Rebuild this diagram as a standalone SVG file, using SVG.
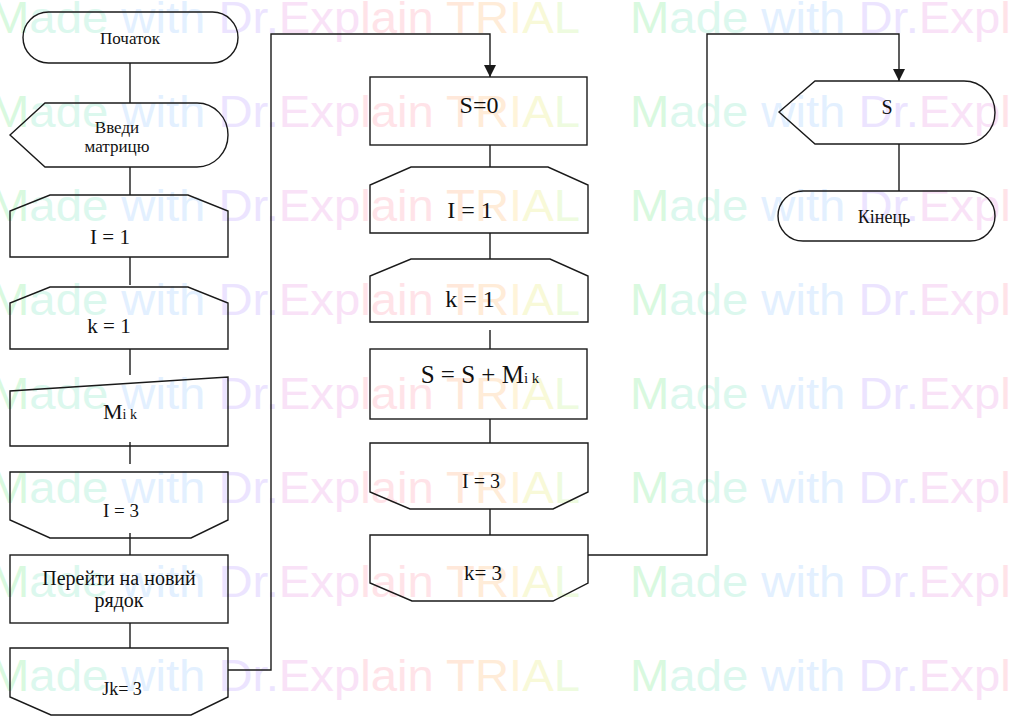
<svg xmlns="http://www.w3.org/2000/svg" width="1010" height="718" viewBox="0 0 1010 718">
<style>
.wm{font-family:"Liberation Sans",Arial,sans-serif;font-size:45px}
.s{fill:none;stroke:#1a1a1a;stroke-width:1.4}
.c{fill:none;stroke:#1a1a1a;stroke-width:1.4}
.t{font-family:"Liberation Serif","Times New Roman",serif;fill:#111;text-anchor:middle}
.g1{fill:#d9f9df}.g2{fill:#dcf8ee}.b1{fill:#e3f0ff}.v1{fill:#ece4ff}.p1{fill:#f9e2f7}.p2{fill:#ffe3e8}
.o1{fill:#ffe8da}.o2{fill:#ffecd8}.y1{fill:#fff4da}.y2{fill:#f8f9d8}.l1{fill:#eefbdf}
</style>
<defs>
<marker id="arr" viewBox="0 0 12 12" refX="12" refY="6" markerWidth="12" markerHeight="12" markerUnits="userSpaceOnUse" orient="auto">
<path d="M0,0 L12,6 L0,12 Z" fill="#1a1a1a"/>
</marker>
<g id="wmrow">
<text class="wm" x="-10" y="0" textLength="590" lengthAdjust="spacingAndGlyphs"><tspan class="g1">M</tspan><tspan class="g2">ade </tspan><tspan class="b1">with </tspan><tspan class="v1">Dr.</tspan><tspan class="p1">Exp</tspan><tspan class="p2">lain </tspan><tspan class="o1">T</tspan><tspan class="o2">R</tspan><tspan class="y1">I</tspan><tspan class="y2">A</tspan><tspan class="l1">L</tspan></text>
<text class="wm" x="630" y="0" textLength="590" lengthAdjust="spacingAndGlyphs"><tspan class="g1">M</tspan><tspan class="g2">ade </tspan><tspan class="b1">with </tspan><tspan class="v1">Dr.</tspan><tspan class="p1">Exp</tspan><tspan class="p2">lain </tspan><tspan class="o1">T</tspan><tspan class="o2">R</tspan><tspan class="y1">I</tspan><tspan class="y2">A</tspan><tspan class="l1">L</tspan></text>
</g>
</defs>
<rect width="1010" height="718" fill="#fff"/>
<g id="watermark">
<use href="#wmrow" y="33"/>
<use href="#wmrow" y="127"/>
<use href="#wmrow" y="221"/>
<use href="#wmrow" y="315"/>
<use href="#wmrow" y="409"/>
<use href="#wmrow" y="503"/>
<use href="#wmrow" y="597"/>
<use href="#wmrow" y="691"/>
</g>
<g id="connectors">
<path class="c" d="M130,63 V103"/>
<path class="c" d="M130,167 V195"/>
<path class="c" d="M130,257 V285"/>
<path class="c" d="M130,349 V375"/>
<path class="c" d="M130,442 V464"/>
<path class="c" d="M130,533 V555"/>
<path class="c" d="M130,623 V648"/>
<path class="c" d="M228,670 H271 V34 H490 V77" marker-end="url(#arr)"/>
<path class="c" d="M490,145 V167"/>
<path class="c" d="M490,233 V259"/>
<path class="c" d="M490,330 V349"/>
<path class="c" d="M490,419 V443"/>
<path class="c" d="M490,509 V535"/>
<path class="c" d="M588,555 H707 V34 H899 V81" marker-end="url(#arr)"/>
<path class="c" d="M899,144 V191"/>
</g>
<g id="n-start">
<rect class="s" x="23" y="12" width="215" height="51" rx="25.5"/>
<text class="t" x="130" y="44" font-size="17">Початок</text>
</g>
<g id="n-input">
<path class="s" d="M10,135 L45,103 H197 A31,32 0 0 1 197,167 H45 Z"/>
<text class="t" x="117" y="133" font-size="17">Введи</text>
<text class="t" x="117" y="152" font-size="17">матрицю</text>
</g>
<g id="n-i1">
<path class="s" d="M10,257 V211 L50,195 H188 L228,211 V257 Z"/>
<text class="t" x="110" y="244" font-size="21">I = 1</text>
</g>
<g id="n-k1">
<path class="s" d="M10,349 V303 L50,287 H188 L228,303 V349 Z"/>
<text class="t" x="109" y="333" font-size="21">k = 1</text>
</g>
<g id="n-mik">
<path class="s" d="M10,446 V391 L228,377 V446 Z"/>
<text class="t" x="120" y="419" font-size="22">M<tspan font-size="14">i  k</tspan></text>
</g>
<g id="n-i3">
<path class="s" d="M10,472 H228 V520 L191,538 H50 L10,520 Z"/>
<text class="t" x="121" y="517" font-size="19">I = 3</text>
</g>
<g id="n-newline">
<rect class="s" x="10" y="555" width="218" height="68"/>
<text class="t" x="119" y="585" font-size="20">Перейти на новий</text>
<text class="t" x="119" y="607" font-size="20">рядок</text>
</g>
<g id="n-jk3">
<path class="s" d="M10,648 H228 V697 L191,715 H51 L10,697 Z"/>
<text class="t" x="122" y="695" font-size="18">Jk= 3</text>
</g>
<g id="n-s0">
<rect class="s" x="370" y="77" width="217" height="68"/>
<text class="t" x="479" y="113" font-size="24">S=0</text>
</g>
<g id="n-i1b">
<path class="s" d="M370,233 V185 L411,167 H548 L588,185 V233 Z"/>
<text class="t" x="470" y="218" font-size="24">I = 1</text>
</g>
<g id="n-k1b">
<path class="s" d="M370,322 V276 L411,259 H550 L588,276 V322 Z"/>
<text class="t" x="470" y="307" font-size="24">k = 1</text>
</g>
<g id="n-sum">
<rect class="s" x="370" y="349" width="217" height="70"/>
<text class="t" x="480" y="383" font-size="25">S  = S  + M<tspan font-size="15">i  k</tspan></text>
</g>
<g id="n-i3b">
<path class="s" d="M370,443 H588 V492 L553,509 H410 L370,492 Z"/>
<text class="t" x="481" y="488" font-size="20">I = 3</text>
</g>
<g id="n-k3">
<path class="s" d="M370,535 H588 V583 L553,601 H412 L370,583 Z"/>
<text class="t" x="483" y="580" font-size="21">k= 3</text>
</g>
<g id="n-out">
<path class="s" d="M779,112 L815,81 H964 A31,31.5 0 0 1 964,144 H815 Z"/>
<text class="t" x="887" y="114" font-size="20">S</text>
</g>
<g id="n-end">
<rect class="s" x="778" y="191" width="217" height="50" rx="25"/>
<text class="t" x="884" y="223" font-size="18">Кінець</text>
</g>
</svg>
